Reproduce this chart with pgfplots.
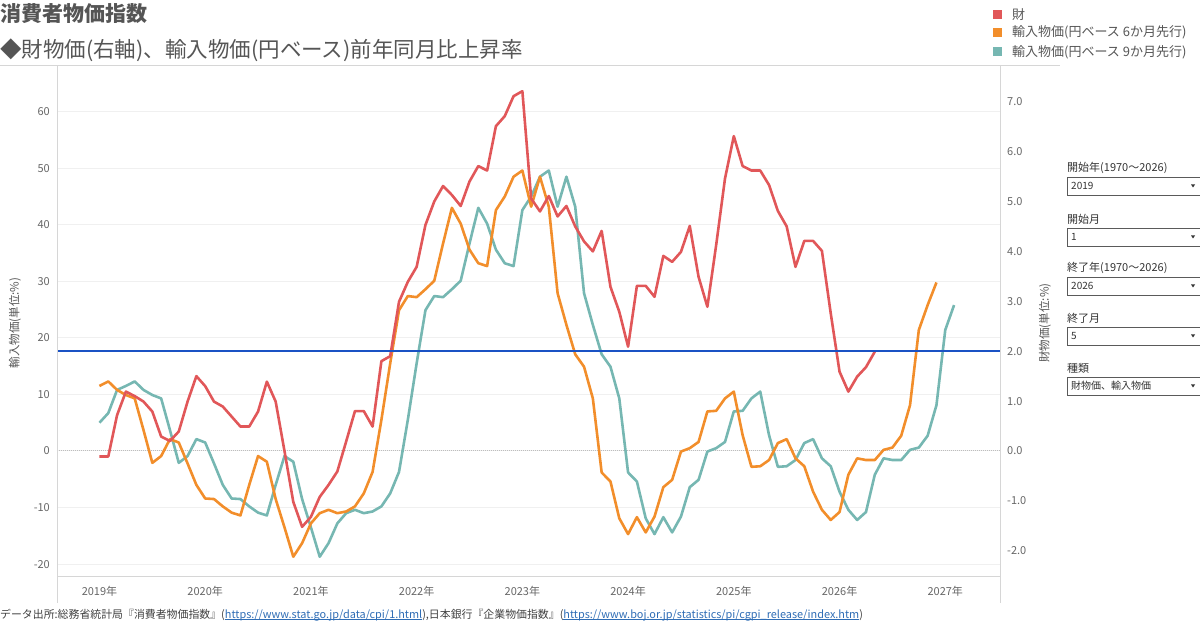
\documentclass[border=0pt]{standalone}
\usepackage{fontspec}
\setmainfont{Noto Sans CJK JP}
\usepackage{pgfplots}
\pgfplotsset{compat=1.18}

\definecolor{cRed}{HTML}{E15759}
\definecolor{cOrange}{HTML}{F28E2B}
\definecolor{cTeal}{HTML}{76B7B2}
\definecolor{cBlue}{HTML}{1A52C4}
\definecolor{gridc}{HTML}{F0F0F0}
\definecolor{zeroc}{HTML}{BDBDBD}
\definecolor{axisc}{HTML}{D6D6D6}
\definecolor{tickc}{HTML}{666666}
\definecolor{titlec}{HTML}{555555}
\definecolor{linkc}{HTML}{2F6DB5}
\definecolor{boxc}{HTML}{5A5A5A}

\newcommand{\fs}[1]{\fontsize{#1}{#1}\selectfont}
% link text with a thin underline close to the baseline
\newcommand{\lnk}[1]{\setbox0\hbox{#1}\rlap{\rule[-1.6pt]{\wd0}{0.6pt}}\box0}

\begin{document}
\begin{tikzpicture}[x=1pt,y=1pt]
\path[use as bounding box] (0,0) rectangle (1200,629);

% import prices, left axis
\begin{axis}[
  at={(57pt,52.3pt)}, anchor=south west, scale only axis,
  width=943.5pt, height=510.7pt,
  xmin=-4.82, xmax=102.27, ymin=-22.23, ymax=68.08,
  axis line style={draw=none}, major tick length=0pt,
  xtick={0,12,...,96},
  xticklabels={2019年,2020年,2021年,2022年,2023年,2024年,2025年,2026年,2027年},
  xticklabel style={font=\fs{11}, text=tickc, anchor=base, inner sep=0pt, yshift=-18.5pt},
  ytick={-20,-10,...,60},
  ytick pos=left,
  yticklabel style={font=\fs{11}, text=tickc, anchor=east, inner sep=0pt, xshift=-7pt},
  /pgf/number format/assume math mode=true,
  ymajorgrids, grid style={gridc, line width=1pt},
]
\addplot[zeroc, line width=1pt, densely dotted] coordinates {(-4.82,0) (102.27,0)};
% 9-month lead
\addplot[cTeal, line width=2.6pt, line join=round] coordinates {
(0,5.0) (1,6.7) (2,10.8) (3,11.5) (4,12.3) (5,10.8) (6,9.9) (7,9.3) (8,3.7) (9,-2.1)
(10,-0.9) (11,2.1) (12,1.5) (13,-2.2) (14,-6.0) (15,-8.4) (16,-8.5) (17,-9.8) (18,-10.9) (19,-11.4)
(20,-6.0) (21,-0.9) (22,-1.9) (23,-8.5) (24,-13.5) (25,-18.7) (26,-16.3) (27,-12.8) (28,-11.0) (29,-10.4)
(30,-11.0) (31,-10.7) (32,-9.8) (33,-7.5) (34,-3.7) (35,5.5) (36,15.5) (37,24.9) (38,27.4) (39,27.2)
(40,28.6) (41,30.1) (42,36.7) (43,43.0) (44,40.2) (45,35.6) (46,33.2) (47,32.7) (48,42.6) (49,45.0)
(50,48.5) (51,49.6) (52,43.2) (53,48.5) (54,43.2) (55,27.9) (56,22.3) (57,17.1) (58,14.9) (59,9.3)
(60,-3.8) (61,-5.4) (62,-11.9) (63,-14.7) (64,-11.7) (65,-14.4) (66,-11.6) (67,-6.4) (68,-5.1) (69,-0.1)
(70,0.5) (71,1.6) (72,7.0) (73,7.1) (74,9.3) (75,10.5) (76,2.8) (77,-2.8) (78,-2.7) (79,-1.6)
(80,1.4) (81,2.1) (82,-1.3) (83,-2.7) (84,-7.2) (85,-10.4) (86,-12.2) (87,-10.8) (88,-4.2) (89,-1.3)
(90,-1.6) (91,-1.6) (92,0.2) (93,0.6) (94,2.7) (95,8.1) (96,21.4) (97,25.8)};
% 6-month lead
\addplot[cOrange, line width=2.6pt, line join=round] coordinates {
(0,11.5) (1,12.3) (2,10.8) (3,9.9) (4,9.3) (5,3.7) (6,-2.1) (7,-0.9) (8,2.1) (9,1.5)
(10,-2.2) (11,-6.0) (12,-8.4) (13,-8.5) (14,-9.8) (15,-10.9) (16,-11.4) (17,-6.0) (18,-0.9) (19,-1.9)
(20,-8.5) (21,-13.5) (22,-18.7) (23,-16.3) (24,-12.8) (25,-11.0) (26,-10.4) (27,-11.0) (28,-10.7) (29,-9.8)
(30,-7.5) (31,-3.7) (32,5.5) (33,15.5) (34,24.9) (35,27.4) (36,27.2) (37,28.6) (38,30.1) (39,36.7)
(40,43.0) (41,40.2) (42,35.6) (43,33.2) (44,32.7) (45,42.6) (46,45.0) (47,48.5) (48,49.6) (49,43.2)
(50,48.5) (51,43.2) (52,27.9) (53,22.3) (54,17.1) (55,14.9) (56,9.3) (57,-3.8) (58,-5.4) (59,-11.9)
(60,-14.7) (61,-11.7) (62,-14.4) (63,-11.6) (64,-6.4) (65,-5.1) (66,-0.1) (67,0.5) (68,1.6) (69,7.0)
(70,7.1) (71,9.3) (72,10.5) (73,2.8) (74,-2.8) (75,-2.7) (76,-1.6) (77,1.4) (78,2.1) (79,-1.3)
(80,-2.7) (81,-7.2) (82,-10.4) (83,-12.2) (84,-10.8) (85,-4.2) (86,-1.3) (87,-1.6) (88,-1.6) (89,0.2)
(90,0.6) (91,2.7) (92,8.1) (93,21.4) (94,25.8) (95,29.8)};
\end{axis}

% goods CPI, right axis
\begin{axis}[
  at={(57pt,52.3pt)}, anchor=south west, scale only axis,
  width=943.5pt, height=510.7pt,
  xmin=-4.82, xmax=102.27, ymin=-2.519, ymax=7.715,
  axis line style={draw=none}, major tick length=0pt,
  xtick=\empty,
  ytick={-2,-1,...,7},
  ytick pos=right,
  yticklabel style={font=\fs{11}, text=tickc, anchor=west, inner sep=0pt, xshift=6.5pt},
  /pgf/number format/assume math mode=true,
  /pgf/number format/fixed, /pgf/number format/fixed zerofill,
  /pgf/number format/precision=1,
]
\addplot[cRed, line width=2.6pt, line join=round] coordinates {
(0,-0.11) (1,-0.11) (2,0.72) (3,1.19) (4,1.10) (5,0.99) (6,0.79) (7,0.29) (8,0.20) (9,0.39)
(10,0.99) (11,1.50) (12,1.30) (13,0.99) (14,0.89) (15,0.69) (16,0.49) (17,0.49) (18,0.79) (19,1.39)
(20,0.99) (21,0.00) (22,-1.02) (23,-1.52) (24,-1.32) (25,-0.92) (26,-0.68) (27,-0.41) (28,0.19) (29,0.80)
(30,0.80) (31,0.49) (32,1.80) (33,1.90) (34,2.99) (35,3.39) (36,3.69) (37,4.53) (38,5.00) (39,5.31)
(40,5.13) (41,4.91) (42,5.40) (43,5.71) (44,5.62) (45,6.51) (46,6.71) (47,7.11) (48,7.21) (49,5.06)
(50,4.80) (51,5.11) (52,4.70) (53,4.91) (54,4.50) (55,4.20) (56,4.00) (57,4.41) (58,3.29) (59,2.79)
(60,2.09) (61,3.31) (62,3.31) (63,3.09) (64,3.91) (65,3.79) (66,3.99) (67,4.51) (68,3.49) (69,2.89)
(70,4.13) (71,5.46) (72,6.31) (73,5.71) (74,5.62) (75,5.62) (76,5.33) (77,4.81) (78,4.50) (79,3.69)
(80,4.21) (81,4.21) (82,4.01) (83,2.76) (84,1.59) (85,1.19) (86,1.49) (87,1.68) (88,1.99)};
% 2% reference line
\addplot[cBlue, line width=1.8pt] coordinates {(-4.82,2) (102.27,2)};
\end{axis}

% frame lines
\draw[axisc, line width=1pt] (0,563) -- (1060,563);
\draw[axisc, line width=1pt] (57,563) -- (57,26);
\draw[axisc, line width=1pt] (1000.5,563) -- (1000.5,26);
\draw[axisc, line width=1pt] (57,52.3) -- (1000.5,52.3);

% axis titles
\node[rotate=90, font=\fs{11.5}, text=titlec, inner sep=0pt] at (15,306) {輸入物価(単位:\%)};
\node[rotate=90, font=\fs{11.5}, text=titlec, inner sep=0pt] at (1045,306) {財物価(単位:\%)};

% titles
\node[anchor=west, inner sep=0pt, font=\fs{21}\bfseries, text=titlec] at (0,615) {消費者物価指数};
\node[anchor=west, inner sep=0pt, font=\fs{21.5}, text=titlec] at (0,579) {◆財物価(右軸)、輸入物価(円ベース)前年同月比上昇率};

% legend
\fill[cRed] (993,610) rectangle (1002,619);
\fill[cOrange] (993,592) rectangle (1002,601);
\fill[cTeal] (993,572.5) rectangle (1002,581.5);
\node[anchor=west, inner sep=0pt, font=\fs{13}, text=titlec] at (1012,614.5) {財};
\node[anchor=west, inner sep=0pt, font=\fs{13}, text=titlec] at (1012,596.5) {輸入物価(円ベース 6か月先行)};
\node[anchor=west, inner sep=0pt, font=\fs{13}, text=titlec] at (1012,577) {輸入物価(円ベース 9か月先行)};

% filter controls
\foreach \ly/\lab/\val in {461/{開始年(1970～2026)}/2019, 410/{開始月}/1, 361/{終了年(1970～2026)}/2026, 311/{終了月}/5, 261/{種類}/{財物価、輸入物価}}{
  \node[anchor=west, inner sep=0pt, font=\fs{11}, text=black!80] at (1067,\ly) {\lab};
  \draw[boxc, line width=0.8pt] (1067,\ly-9) rectangle (1210,\ly-27);
  \node[anchor=west, inner sep=0pt, font=\fs{10}, text=black!80] at (1071,\ly-18) {\val};
  \fill[black!80] (1191,\ly-16.5) -- (1195,\ly-16.5) -- (1193,\ly-19.5) -- cycle;
}

% source note
\node[anchor=west, inner sep=0pt, font=\fs{10.9}, text=black!75] at (0,14) {データ出所:総務省統計局『消費者物価指数』(\textcolor{linkc}{\lnk{https://www.stat.go.jp/data/cpi/1.html}}),日本銀行『企業物価指数』(\textcolor{linkc}{\lnk{https://www.boj.or.jp/statistics/pi/cgpi\_release/index.htm}})};
\end{tikzpicture}
\end{document}
